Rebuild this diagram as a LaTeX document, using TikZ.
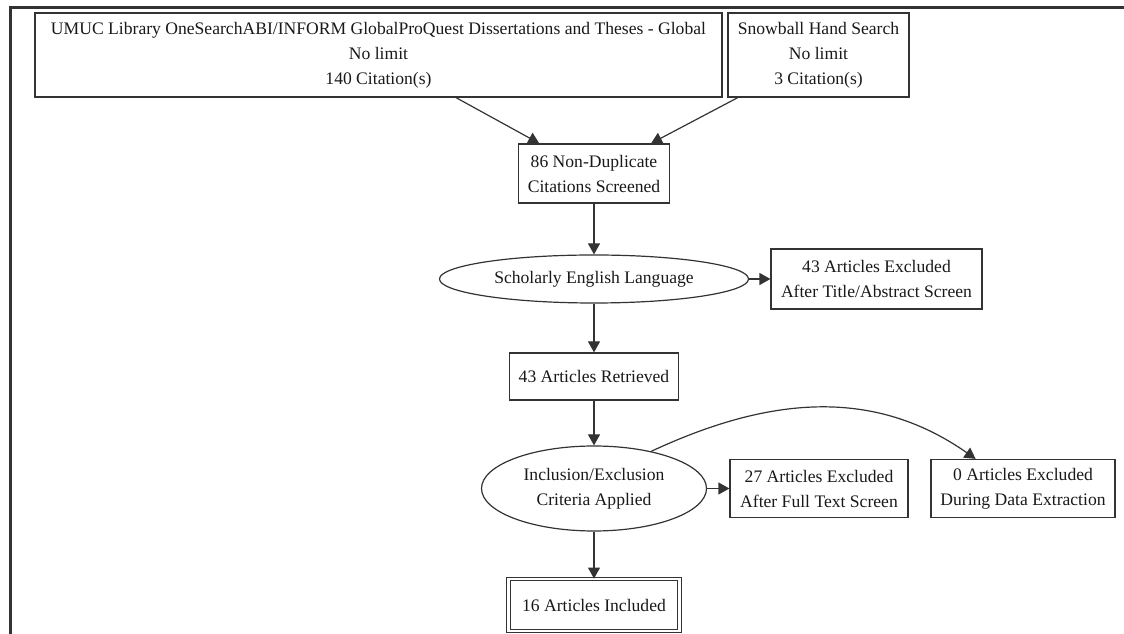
\documentclass[tikz,border=0pt]{standalone}
\usepackage{fontspec}
\setmainfont{Liberation Serif}
\usetikzlibrary{shapes.geometric,arrows.meta,positioning,calc}

\begin{document}
\begin{tikzpicture}[
  x=1pt, y=1pt,
  box/.style={draw=black!80, line width=1.2pt, minimum width=#1, inner sep=0pt,
              align=center, text=black!90},
  box/.default=150pt,
  oval/.style={ellipse, draw=black!80, line width=1.2pt, inner sep=0pt,
               align=center, text=black!90},
  arr/.style={-{Triangle[length=11pt,width=12pt]}, line width=1.2pt, draw=black!80},
  font=\fontsize{17.6}{25}\selectfont
]
\useasboundingbox (0,0) rectangle (1124,634);

\draw[line width=3pt, black!80] (10,0) -- (10,626) -- (1124,626);

\node[box=687pt, minimum height=84pt] (search)  at (378.5,579)
  {UMUC Library OneSearchABI/INFORM GlobalProQuest Dissertations and Theses - Global\\No limit\\140 Citation(s)};
\node[box=181pt, minimum height=84pt] (hand)    at (818.5,579) {Snowball Hand Search\\No limit\\3 Citation(s)};
\node[box=151pt, minimum height=59pt] (screened) at (594,460.5) {86 Non-Duplicate\\Citations Screened};

\node[oval, minimum width=309pt, minimum height=48pt] (english) at (594,355) {Scholarly English Language};
\node[box=211pt, minimum height=60pt] (exTitle)   at (876.5,355) {43 Articles Excluded\\After Title/Abstract Screen};

\node[box=169pt, minimum height=47pt] (retrieved) at (594,257.5) {43 Articles Retrieved};

\node[oval, minimum width=225pt, minimum height=85pt] (criteria) at (594,145.5) {Inclusion/Exclusion\\Criteria Applied};
\node[box=178pt, minimum height=58pt] (exFull)    at (819,145.5) {27 Articles Excluded\\After Full Text Screen};
\node[box=184pt, minimum height=58pt] (exData)    at (1023,145.5) {0 Articles Excluded\\During Data Extraction};

\node[box=171pt, minimum height=52pt, double, double distance=2.4pt, line width=0.9pt] (included) at (594,29) {16 Articles Included};

\draw[arr] (search) -- (screened);
\draw[arr] (hand) -- (screened);
\draw[arr] (screened) -- (english);
\draw[arr] (english) -- (exTitle);
\draw[arr] (english) -- (retrieved);
\draw[arr] (retrieved) -- (criteria);
\draw[arr] (criteria) -- (exFull);
\draw[arr] (criteria.33) to[out=25, in=145] (exData.148);
\draw[arr] (criteria) -- (included);

\end{tikzpicture}
\end{document}
